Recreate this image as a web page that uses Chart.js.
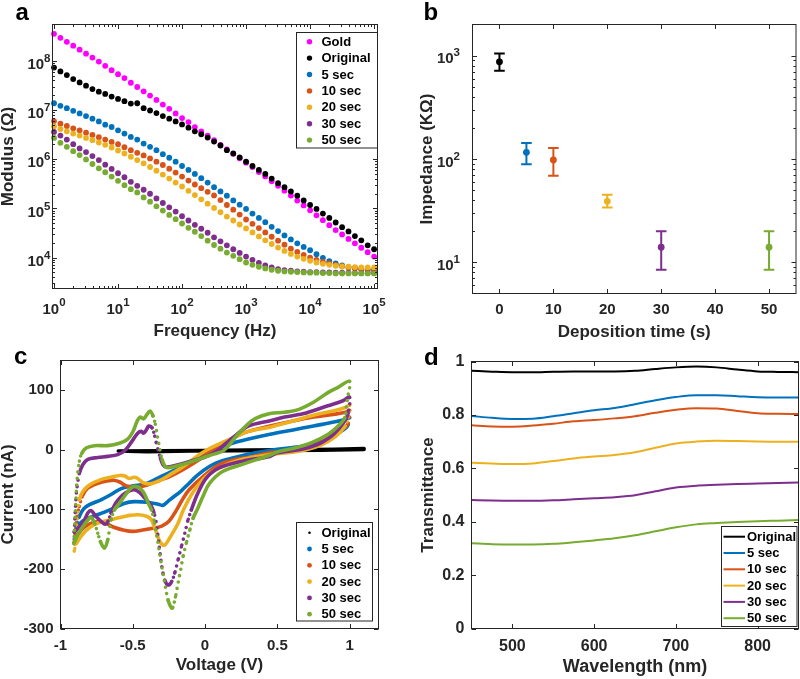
<!DOCTYPE html>
<html>
<head>
<meta charset="utf-8">
<script src="https://cdn.jsdelivr.net/npm/chart.js@4.4.1/dist/chart.umd.min.js"></script>
<style>
  body { margin: 0; background: #fff; width: 800px; height: 679px; position: relative; overflow: hidden; }
  canvas { position: absolute; }
  .tag { position: absolute; font: bold 24px "Liberation Sans", Arial, sans-serif; line-height: 24px; color: #000; }
</style>
</head>
<body>
<canvas id="chartA" width="400" height="340" style="left:0;top:0"></canvas>
<canvas id="chartB" width="400" height="340" style="left:400px;top:0"></canvas>
<canvas id="chartC" width="400" height="339" style="left:0;top:340px"></canvas>
<canvas id="chartD" width="400" height="339" style="left:400px;top:340px"></canvas>
<div class="tag" style="left:15.5px;top:-0.5px">a</div>
<div class="tag" style="left:423.5px;top:-0.5px">b</div>
<div class="tag" style="left:14px;top:343.5px">c</div>
<div class="tag" style="left:424px;top:344.5px">d</div>
<script>
// ---- panel a : impedance modulus vs frequency ----
const freqHz = [1, 1.259, 1.585, 1.995, 2.512, 3.162, 3.981, 5.012, 6.310, 7.943,
  10, 12.59, 15.85, 19.95, 25.12, 31.62, 39.81, 50.12, 63.10, 79.43,
  100, 125.9, 158.5, 199.5, 251.2, 316.2, 398.1, 501.2, 631.0, 794.3,
  1000, 1259, 1585, 1995, 2512, 3162, 3981, 5012, 6310, 7943,
  10000, 12589, 15849, 19953, 25119, 31623, 39811, 50119, 63096, 79433, 100000];
// |Z|, kept as log10(ohm)
const goldLogZ = [8.551, 8.470, 8.389, 8.309, 8.228, 8.147, 8.067, 7.986, 7.899, 7.811,
  7.731, 7.650, 7.556, 7.469, 7.381, 7.294, 7.207, 7.112, 7.025, 6.931,
  6.837, 6.756, 6.655, 6.568, 6.481, 6.387, 6.29, 6.20, 6.11, 6.02,
  5.93, 5.84, 5.74, 5.65, 5.55, 5.46, 5.36, 5.26, 5.16, 5.06,
  4.96, 4.86, 4.76, 4.66, 4.56, 4.47, 4.38, 4.29, 4.20, 4.11, 4.02];
const originalLogZ = [7.865, 7.785, 7.711, 7.630, 7.563, 7.496, 7.428, 7.375, 7.328, 7.274,
  7.227, 7.180, 7.133, 7.139, 7.039, 6.991, 6.938, 6.877, 6.824, 6.770,
  6.709, 6.642, 6.568, 6.508, 6.440, 6.360, 6.279, 6.185, 6.118, 6.037,
  5.950, 5.862, 5.782, 5.701, 5.607, 5.513, 5.432, 5.345, 5.258, 5.163,
  5.069, 4.989, 4.895, 4.807, 4.713, 4.619, 4.532, 4.438, 4.350, 4.250, 4.169];
const sec5LogZ = [7.139, 7.086, 7.039, 6.985, 6.931, 6.877, 6.824, 6.770, 6.702, 6.656,
  6.588, 6.521, 6.454, 6.400, 6.319, 6.252, 6.185, 6.104, 6.030, 5.950,
  5.862, 5.782, 5.701, 5.614, 5.526, 5.432, 5.345, 5.258, 5.163, 5.076,
  4.989, 4.895, 4.807, 4.720, 4.626, 4.539, 4.451, 4.370, 4.290, 4.216,
  4.149, 4.068, 3.994, 3.927, 3.880, 3.840, 3.806, 3.786, 3.772, 3.759, 3.752];
const sec10LogZ = [6.776, 6.723, 6.676, 6.629, 6.588, 6.541, 6.494, 6.447, 6.400, 6.353,
  6.306, 6.246, 6.185, 6.131, 6.078, 6.017, 5.950, 5.883, 5.809, 5.728,
  5.647, 5.567, 5.486, 5.412, 5.338, 5.264, 5.170, 5.069, 4.975, 4.875,
  4.774, 4.686, 4.599, 4.512, 4.424, 4.344, 4.263, 4.182, 4.115, 4.055,
  4.001, 3.954, 3.913, 3.880, 3.853, 3.826, 3.799, 3.779, 3.759, 3.745, 3.732];
const sec20LogZ = [6.669, 6.615, 6.568, 6.521, 6.481, 6.434, 6.387, 6.340, 6.293, 6.239,
  6.178, 6.118, 6.051, 5.983, 5.916, 5.842, 5.768, 5.688, 5.607, 5.526,
  5.446, 5.358, 5.271, 5.184, 5.096, 5.009, 4.922, 4.834, 4.754, 4.673,
  4.592, 4.512, 4.431, 4.350, 4.276, 4.203, 4.135, 4.075, 4.021, 3.974,
  3.934, 3.900, 3.873, 3.853, 3.833, 3.819, 3.813, 3.806, 3.799, 3.799, 3.799];
const sec30LogZ = [6.555, 6.481, 6.400, 6.306, 6.219, 6.145, 6.064, 5.983, 5.889, 5.802,
  5.715, 5.634, 5.540, 5.459, 5.379, 5.298, 5.204, 5.110, 5.022, 4.935,
  4.841, 4.754, 4.666, 4.586, 4.505, 4.411, 4.330, 4.250, 4.169, 4.095,
  4.021, 3.954, 3.893, 3.840, 3.799, 3.766, 3.745, 3.732, 3.719, 3.712,
  3.705, 3.705, 3.699, 3.699, 3.692, 3.692, 3.692, 3.685, 3.685, 3.685, 3.685];
const sec50LogZ = [6.434, 6.333, 6.252, 6.165, 6.084, 5.997, 5.903, 5.815, 5.735, 5.647,
  5.560, 5.473, 5.392, 5.325, 5.224, 5.137, 5.043, 4.955, 4.868, 4.780,
  4.693, 4.606, 4.525, 4.438, 4.344, 4.256, 4.182, 4.102, 4.035, 3.967,
  3.900, 3.853, 3.813, 3.779, 3.752, 3.732, 3.719, 3.712, 3.705, 3.699,
  3.692, 3.692, 3.685, 3.685, 3.678, 3.678, 3.678, 3.678, 3.678, 3.678, 3.678];
const freqTicks = [1, 10, 100, 1000, 10000, 100000];
const modulusTicks = [1e4, 1e5, 1e6, 1e7, 1e8];

// ---- panel b : impedance vs deposition time ----
const depTime = [0, 5, 10, 20, 30, 50];
const impMean = [870, 116, 98, 39, 14, 14];
const impLow = [712, 89, 69, 34, 8.5, 8.5];
const impHigh = [1050, 143, 128, 45, 20, 20];
const depTicks = [0, 10, 20, 30, 40, 50];
const impTicks = [10, 100, 1000];

// ---- panel c : cyclic voltammetry, [voltage V, current nA] in sweep order ----
const cvOriginal = [[-0.6, -2], [-0.3, -1.5], [0, -1], [0.3, -0.5], [0.6, 0], [0.9, 1], [1.1, 2],
  [1.1, 0.5], [0.8, -0.5], [0.5, -1], [0.2, -1.5], [-0.1, -2], [-0.4, -3], [-0.6, -2]];
const cv5s = [[-0.905, -150], [-0.893, -130], [-0.87, -112], [-0.84, -99], [-0.8, -92], [-0.72, -84],
  [-0.65, -75], [-0.58, -65], [-0.51, -61], [-0.45, -59], [-0.39, -55], [-0.3, -44], [-0.2, -33],
  [-0.1, -20], [0, -6], [0.1, 4], [0.2, 12], [0.3, 18], [0.45, 26], [0.6, 33], [0.75, 40], [0.9, 47],
  [0.97, 51], [1.0, 54], [0.99, 42], [0.97, 36], [0.94, 31], [0.875, 20], [0.78, 12], [0.67, 6],
  [0.5, 1], [0.35, -5], [0.22, -12], [0.1, -20], [0.03, -28], [-0.05, -42], [-0.11, -56], [-0.17, -70],
  [-0.245, -84], [-0.29, -93], [-0.33, -91], [-0.4, -88], [-0.49, -87], [-0.56, -90], [-0.63, -98],
  [-0.7, -105], [-0.77, -111], [-0.83, -117], [-0.88, -128], [-0.905, -150]];
const cv10s = [[-0.905, -155], [-0.89, -120], [-0.87, -95], [-0.845, -76], [-0.81, -64], [-0.74, -56],
  [-0.67, -52], [-0.63, -51], [-0.59, -54], [-0.55, -60], [-0.5, -63], [-0.45, -62], [-0.4, -59],
  [-0.3, -50], [-0.245, -45], [-0.15, -33], [-0.05, -18], [0.02, -5], [0.1, 6], [0.22, 23], [0.3, 31],
  [0.45, 40], [0.6, 48], [0.75, 55], [0.9, 60], [0.97, 63], [1.0, 66], [0.99, 45], [0.97, 38],
  [0.9, 28], [0.8, 12], [0.7, 3], [0.6, -1], [0.45, -5], [0.3, -13], [0.22, -16], [0.1, -25],
  [-0.01, -44], [-0.11, -67], [-0.16, -85], [-0.2, -102], [-0.25, -120], [-0.3, -128], [-0.37, -132],
  [-0.44, -135], [-0.5, -137], [-0.56, -135], [-0.63, -130], [-0.7, -122], [-0.76, -121], [-0.83, -129],
  [-0.88, -142], [-0.905, -155]];
const cv20s = [[-0.905, -170], [-0.895, -140], [-0.882, -106], [-0.87, -84], [-0.845, -70], [-0.8, -59],
  [-0.72, -50], [-0.65, -46], [-0.59, -43], [-0.555, -44], [-0.525, -48], [-0.49, -46], [-0.465, -48],
  [-0.43, -55], [-0.38, -57], [-0.3, -50], [-0.245, -42], [-0.15, -28], [-0.05, -10], [0, -2], [0.1, 10],
  [0.22, 23], [0.3, 31], [0.45, 38], [0.6, 48], [0.75, 58], [0.9, 66], [0.97, 71], [1.0, 75],
  [0.99, 55], [0.97, 40], [0.9, 22], [0.8, 8], [0.7, 0], [0.6, -4], [0.45, -8], [0.26, -16],
  [0.12, -28], [0.01, -44], [-0.08, -70], [-0.15, -101], [-0.19, -125], [-0.245, -148], [-0.28, -160],
  [-0.31, -155], [-0.335, -140], [-0.37, -118], [-0.4, -112], [-0.46, -109], [-0.52, -110], [-0.56, -112],
  [-0.63, -116], [-0.7, -120], [-0.77, -126], [-0.83, -137], [-0.89, -157], [-0.905, -170]];
const cv30s = [[-0.905, -138], [-0.892, -78], [-0.88, -53], [-0.869, -39], [-0.846, -25], [-0.811, -16],
  [-0.742, -13], [-0.673, -11], [-0.604, -8], [-0.558, -2], [-0.512, 12], [-0.466, 28], [-0.44, 31],
  [-0.425, 28], [-0.405, 34], [-0.39, 40], [-0.367, 37], [-0.348, 23], [-0.337, 12], [-0.325, 0],
  [-0.309, -14], [-0.291, -25], [-0.268, -29], [-0.2, -26], [-0.1, -19], [0, -12], [0.08, -2],
  [0.15, 12], [0.22, 26], [0.3, 40], [0.45, 49], [0.55, 55], [0.7, 62], [0.85, 74], [0.95, 82],
  [1.0, 88], [0.99, 62], [0.97, 50], [0.92, 34], [0.875, 23], [0.78, 9], [0.67, 1], [0.5, -5],
  [0.45, -11], [0.26, -19], [0.1, -30], [0.01, -47], [-0.05, -73], [-0.095, -101], [-0.12, -120],
  [-0.14, -140], [-0.164, -163], [-0.187, -185], [-0.21, -207], [-0.233, -222], [-0.256, -227],
  [-0.279, -219], [-0.291, -207], [-0.302, -191], [-0.314, -168], [-0.325, -146], [-0.337, -123],
  [-0.353, -106], [-0.371, -95], [-0.394, -87], [-0.417, -81], [-0.45, -72], [-0.49, -67], [-0.535, -70],
  [-0.57, -76], [-0.604, -85], [-0.627, -93], [-0.65, -106], [-0.673, -121], [-0.69, -125], [-0.72, -120],
  [-0.754, -112], [-0.789, -102], [-0.811, -106], [-0.834, -118], [-0.869, -129], [-0.905, -138]];
const cv50s = [[-0.908, -157], [-0.9, -120], [-0.892, -78], [-0.885, -50], [-0.869, -19], [-0.853, -6],
  [-0.823, 3], [-0.765, 7], [-0.673, 7], [-0.593, 11], [-0.535, 18], [-0.5, 30], [-0.47, 48], [-0.45, 55],
  [-0.425, 52], [-0.4, 60], [-0.38, 65], [-0.36, 57], [-0.344, 43], [-0.33, 23], [-0.314, 3],
  [-0.298, -16], [-0.279, -27], [-0.256, -30], [-0.164, -25], [-0.072, -18], [0, -12], [0.05, -8],
  [0.13, -1], [0.22, 24], [0.3, 44], [0.35, 53], [0.45, 61], [0.55, 63], [0.65, 68], [0.75, 80],
  [0.85, 96], [0.92, 105], [1.0, 115], [0.99, 92], [0.979, 76], [0.967, 54], [0.921, 40], [0.852, 26],
  [0.737, 12], [0.621, 3], [0.506, -3], [0.446, -9], [0.262, -24], [0.124, -36], [0.032, -56],
  [-0.014, -78], [-0.05, -98], [-0.083, -115], [-0.106, -135], [-0.13, -157], [-0.152, -179],
  [-0.169, -202], [-0.187, -224], [-0.205, -247], [-0.228, -266], [-0.256, -252], [-0.274, -230],
  [-0.291, -207], [-0.307, -185], [-0.321, -163], [-0.337, -140], [-0.353, -118], [-0.371, -101],
  [-0.394, -89], [-0.417, -75], [-0.44, -67], [-0.47, -62], [-0.5, -62], [-0.524, -67], [-0.558, -78],
  [-0.593, -90], [-0.627, -101], [-0.65, -118], [-0.662, -135], [-0.673, -151], [-0.696, -165],
  [-0.724, -154], [-0.742, -140], [-0.765, -123], [-0.789, -113], [-0.811, -118], [-0.846, -129],
  [-0.881, -143], [-0.908, -157]];
const voltTicks = [-1, -0.5, 0, 0.5, 1];
const currentTicks = [-300, -200, -100, 0, 100];

// ---- panel d : transmittance spectra ----
const wavelength = [450, 475, 500, 525, 550, 575, 600, 625, 650, 675, 700, 725, 750, 775, 800, 825, 850];
const transOriginal = [.965, .962, .960, .960, .962, .963, .963, .963, .965, .972, .978, .981, .978, .970, .963, .961, .960];
const trans5s = [.796, .789, .785, .786, .795, .806, .817, .826, .840, .855, .867, .874, .874, .870, .866, .865, .865];
const trans10s = [.761, .757, .756, .760, .767, .776, .781, .787, .795, .808, .819, .825, .824, .815, .806, .804, .803];
const trans20s = [.621, .618, .616, .618, .627, .637, .644, .650, .660, .677, .693, .700, .703, .702, .700, .699, .699];
const trans30s = [.481, .479, .478, .478, .480, .484, .488, .492, .499, .514, .528, .535, .538, .541, .543, .545, .547];
const trans50s = [.319, .316, .315, .315, .317, .323, .330, .338, .349, .364, .379, .390, .395, .399, .402, .404, .406];
const waveTicks = [500, 600, 700, 800];
const transTicks = [0, 0.2, 0.4, 0.6, 0.8, 1];

// ---- styling ----
const FONT = '"Liberation Sans", Arial, Helvetica, sans-serif';
const INK = '#262626';
const BLUE = '#0072BD', ORANGE = '#D95319', YELLOW = '#EDB120', PURPLE = '#7E2F8E', GREEN = '#77AC30';
const GOLD = '#FF00FF', BLACK = '#000000';
const seriesNames = ['Original', '5 sec', '10 sec', '20 sec', '30 sec', '50 sec'];
const seriesColors = [BLACK, BLUE, ORANGE, YELLOW, PURPLE, GREEN];

Chart.defaults.font.family = FONT;
Chart.defaults.color = INK;

function logMinors(lo, hi) {
  const out = [];
  for (let d = lo; d < hi; d *= 10) {
    for (let m = 2; m <= 9; m++) out.push(m * d);
  }
  return out;
}
const pinY = w => s => { s.width = w; s.paddingTop = 0; s.paddingBottom = 0; };
const pinX = h => s => { s.height = h; s.paddingLeft = 0; s.paddingRight = 0; };
const useTicks = vals => s => { s.ticks = vals.map(v => ({ value: v })); };

function drawLogLabels(chart, scale, o) {
  const ctx = chart.ctx;
  const { left, bottom } = chart.chartArea;
  const big = 'bold 15px ' + FONT, small = 'bold 11.5px ' + FONT;
  ctx.fillStyle = INK;
  ctx.textBaseline = 'middle';
  scale.ticks.forEach(t => {
    const e = String(Math.round(Math.log10(t.value)));
    const p = scale.getPixelForValue(t.value);
    ctx.font = big; const w1 = ctx.measureText('10').width;
    ctx.font = small; const w2 = ctx.measureText(e).width;
    if (scale.isHorizontal()) {
      const x0 = p - (w1 + w2) / 2;
      ctx.textAlign = 'left';
      ctx.font = big; ctx.fillText('10', x0, bottom + o.base);
      ctx.font = small; ctx.fillText(e, x0 + w1, bottom + o.sup);
    } else {
      const x1 = left - o.gap;
      ctx.textAlign = 'right';
      ctx.font = small; ctx.fillText(e, x1, p + o.sup);
      ctx.font = big; ctx.fillText('10', x1 - w2, p + o.base);
    }
  });
}

function drawLegend(chart, L) {
  const ctx = chart.ctx;
  ctx.fillStyle = '#fff';
  ctx.fillRect(L.x, L.y, L.w, L.h);
  ctx.strokeStyle = INK;
  ctx.lineWidth = 1;
  ctx.strokeRect(L.x, L.y, L.w, L.h);
  ctx.font = 'bold 13px ' + FONT;
  ctx.textAlign = 'left';
  ctx.textBaseline = 'middle';
  chart.data.datasets.forEach((ds, i) => {
    const y = L.first + i * L.step;
    if (L.type === 'line') {
      ctx.strokeStyle = ds.borderColor;
      ctx.lineWidth = 2;
      ctx.setLineDash([]);
      ctx.beginPath(); ctx.moveTo(L.markX, y); ctx.lineTo(L.markX2, y); ctx.stroke();
    } else {
      ctx.fillStyle = ds.borderColor;
      ctx.beginPath(); ctx.arc(L.markX, y, ds.legendR || 2.5, 0, Math.PI * 2); ctx.fill();
    }
    ctx.fillStyle = '#000';
    ctx.fillText(ds.label, L.textX, y + 0.5);
  });
}

// box, inward ticks on all four sides, log labels and legend (MATLAB look)
function boxAxes(o) {
  return {
    id: 'boxAxes',
    afterDatasetsDraw(chart) {
      const ctx = chart.ctx;
      const { left, right, top, bottom } = chart.chartArea;
      const sx = chart.scales.x, sy = chart.scales.y;
      ctx.save();
      ctx.setLineDash([]);
      ctx.strokeStyle = INK;
      ctx.lineWidth = 1;
      ctx.beginPath();
      const tickX = (v, len) => {
        const p = Math.round(sx.getPixelForValue(v)) + 0.5;
        ctx.moveTo(p, bottom); ctx.lineTo(p, bottom - len);
        ctx.moveTo(p, top); ctx.lineTo(p, top + len);
      };
      const tickY = (v, len) => {
        const p = Math.round(sy.getPixelForValue(v)) + 0.5;
        ctx.moveTo(left, p); ctx.lineTo(left + len, p);
        ctx.moveTo(right, p); ctx.lineTo(right - len, p);
      };
      sx.ticks.forEach(t => tickX(t.value, o.len));
      sy.ticks.forEach(t => tickY(t.value, o.len));
      (o.xMinor || []).filter(v => v > sx.min && v < sx.max).forEach(v => tickX(v, o.minLen));
      (o.yMinor || []).filter(v => v > sy.min && v < sy.max).forEach(v => tickY(v, o.minLen));
      ctx.stroke();
      ctx.strokeRect(left, top, right - left, bottom - top);
      if (o.xLog) drawLogLabels(chart, sx, o.xLog);
      if (o.yLog) drawLogLabels(chart, sy, o.yLog);
      if (o.legend) drawLegend(chart, o.legend);
      ctx.restore();
    }
  };
}

function axis(extra) {
  return Object.assign({
    grid: { display: false, drawTicks: false },
    border: { display: false },
  }, extra);
}
const tickFont = size => ({ size, weight: 'bold' });
const baseOptions = pad => ({
  responsive: false,
  animation: false,
  events: [],
  layout: { padding: pad },
  plugins: { legend: { display: false }, tooltip: { enabled: false } },
});

// ---------- a ----------
const seriesA = [
  { label: 'Gold', color: GOLD, logZ: goldLogZ },
  { label: 'Original', color: BLACK, logZ: originalLogZ },
  { label: '5 sec', color: BLUE, logZ: sec5LogZ },
  { label: '10 sec', color: ORANGE, logZ: sec10LogZ },
  { label: '20 sec', color: YELLOW, logZ: sec20LogZ },
  { label: '30 sec', color: PURPLE, logZ: sec30LogZ },
  { label: '50 sec', color: GREEN, logZ: sec50LogZ },
];
new Chart(document.getElementById('chartA'), {
  type: 'scatter',
  data: {
    datasets: seriesA.map((s, i) => ({
      label: s.label,
      data: freqHz.map((f, k) => ({ x: f, y: Math.pow(10, s.logZ[k]) })),
      backgroundColor: s.color, borderColor: s.color,
      pointRadius: 2.9, pointBorderWidth: 0, order: -i, clip: false, legendR: 2.7,
    })),
  },
  options: Object.assign(baseOptions({ left: 0, top: 24.5, right: 22.5, bottom: 0 }), {
    scales: {
      x: axis({
        type: 'logarithmic', min: 0.947, max: 1.13e5,
        afterBuildTicks: useTicks(freqTicks), afterFit: pinX(51.5),
        ticks: { display: false },
        title: { display: true, text: 'Frequency (Hz)', font: tickFont(17), color: INK, padding: { bottom: -1.2 } },
      }),
      y: axis({
        type: 'logarithmic', min: 2350, max: 5.5e8,
        afterBuildTicks: useTicks(modulusTicks), afterFit: pinY(52.5),
        ticks: { display: false },
        title: { display: true, text: 'Modulus (Ω)', font: tickFont(17), color: INK, padding: { top: -2 } },
      }),
    },
  }),
  plugins: [boxAxes({
    len: 4.5, minLen: 2.5,
    xMinor: logMinors(1, 1e5), yMinor: logMinors(1e3, 1e8),
    xLog: { base: 21.5, sup: 14.5 }, yLog: { gap: 2, base: 4, sup: -2 },
    legend: { x: 296.5, y: 32.5, w: 81, h: 115.5, first: 41.7, step: 16.4, markX: 309.5, textX: 321.5, type: 'dot' },
  })],
});

// ---------- b ----------
const errorBars = {
  id: 'errorBars',
  beforeDatasetsDraw(chart) {
    const ctx = chart.ctx, sx = chart.scales.x, sy = chart.scales.y;
    ctx.save();
    ctx.lineWidth = 2;
    depTime.forEach((t, i) => {
      const px = sx.getPixelForValue(t);
      const lo = sy.getPixelForValue(impLow[i]), hi = sy.getPixelForValue(impHigh[i]);
      ctx.strokeStyle = seriesColors[i];
      ctx.beginPath();
      ctx.moveTo(px, lo); ctx.lineTo(px, hi);
      ctx.moveTo(px - 5.3, lo); ctx.lineTo(px + 5.3, lo);
      ctx.moveTo(px - 5.3, hi); ctx.lineTo(px + 5.3, hi);
      ctx.stroke();
    });
    ctx.restore();
  }
};
new Chart(document.getElementById('chartB'), {
  type: 'scatter',
  data: {
    datasets: [{
      label: 'Impedance',
      data: depTime.map((t, i) => ({ x: t, y: impMean[i] })),
      backgroundColor: seriesColors, borderColor: seriesColors,
      pointRadius: 3.4, pointBorderWidth: 0,
    }],
  },
  options: Object.assign(baseOptions({ left: 0, top: 24.5, right: 1.5, bottom: 0 }), {
    scales: {
      x: axis({
        type: 'linear', min: -5, max: 55,
        afterBuildTicks: useTicks(depTicks), afterFit: pinX(46.5),
        ticks: { font: tickFont(15), color: INK, padding: 7.5, maxRotation: 0, callback: v => String(v) },
        title: { display: true, text: 'Deposition time (s)', font: tickFont(17), color: INK, padding: { bottom: -2.2 } },
      }),
      y: axis({
        type: 'logarithmic', min: 5, max: 2000,
        afterBuildTicks: useTicks(impTicks), afterFit: pinY(72.5),
        ticks: { display: false },
        title: { display: true, text: 'Impedance (KΩ)', font: tickFont(17), color: INK, padding: { top: 17.3 } },
      }),
    },
  }),
  plugins: [errorBars, boxAxes({
    len: 4.5, minLen: 2.5,
    yMinor: logMinors(1, 1000),
    yLog: { gap: 12.5, base: 3.7, sup: -2.5 },
  })],
});

// ---------- c ----------
// steep stretches of a sweep show the separate samples as dots, like the original
const sampleDots = ctx => {
  const dx = Math.abs(ctx.p1.x - ctx.p0.x), dy = Math.abs(ctx.p1.y - ctx.p0.y);
  const s = dy / Math.max(dx, 0.01);
  const gap = 1.5 * Math.sqrt(1 + s * s);
  return gap > 4.2 ? [0, Math.min(gap, 6.5)] : undefined;
};
const cvLoops = [cvOriginal, cv5s, cv10s, cv20s, cv30s, cv50s];
new Chart(document.getElementById('chartC'), {
  type: 'scatter',
  data: {
    datasets: cvLoops.map((loop, i) => ({
      label: seriesNames[i],
      data: loop.map(p => ({ x: p[0], y: p[1] })),
      showLine: true, borderColor: seriesColors[i], backgroundColor: seriesColors[i],
      borderWidth: 3.6, pointRadius: 0, tension: i === 0 ? 0 : 0.35,
      borderCapStyle: 'round', borderJoinStyle: 'round',
      segment: i === 0 ? {} : { borderDash: sampleDots },
      order: -i, legendR: i === 0 ? 1.3 : 2.4,
    })),
  },
  options: Object.assign(baseOptions({ left: 0, top: 20.5, right: 21.5, bottom: 0 }), {
    scales: {
      x: axis({
        type: 'linear', min: -1, max: 1.2,
        afterBuildTicks: useTicks(voltTicks), afterFit: pinX(50.5),
        ticks: { font: tickFont(15), color: INK, padding: 8, maxRotation: 0, callback: v => String(v) },
        title: { display: true, text: 'Voltage (V)', font: tickFont(17), color: INK, padding: { bottom: 3.5 } },
      }),
      y: axis({
        type: 'linear', min: -300, max: 150,
        afterBuildTicks: useTicks(currentTicks), afterFit: pinY(60.5),
        ticks: { font: tickFont(15), color: INK, padding: 7, callback: v => String(v) },
        title: { display: true, text: 'Current (nA)', font: tickFont(17), color: INK, padding: { top: -2 } },
      }),
    },
  }),
  plugins: [boxAxes({
    len: 4.5,
    legend: { x: 296.5, y: 182.5, w: 76, h: 98.5, first: 192.7, step: 16.3, markX: 309.5, textX: 321.5, type: 'dot' },
  })],
});

// ---------- d ----------
const transSeries = [transOriginal, trans5s, trans10s, trans20s, trans30s, trans50s];
new Chart(document.getElementById('chartD'), {
  type: 'scatter',
  data: {
    datasets: transSeries.map((vals, i) => ({
      label: seriesNames[i],
      data: wavelength.map((w, k) => ({ x: w, y: vals[k] })),
      showLine: true, borderColor: seriesColors[i], backgroundColor: seriesColors[i],
      borderWidth: 2, pointRadius: 0, cubicInterpolationMode: 'monotone',
      order: -i,
    })),
  },
  options: Object.assign(baseOptions({ left: 0, top: 21.5, right: 1.5, bottom: 0 }), {
    scales: {
      x: axis({
        type: 'linear', min: 450, max: 850,
        afterBuildTicks: useTicks(waveTicks), afterFit: pinX(50.5),
        ticks: { font: tickFont(16), color: INK, padding: 8, maxRotation: 0, callback: v => String(v) },
        title: { display: true, text: 'Wavelength (nm)', font: tickFont(18), color: INK, padding: { bottom: 1.2 } },
      }),
      y: axis({
        type: 'linear', min: 0, max: 1,
        afterBuildTicks: useTicks(transTicks), afterFit: pinY(71.5),
        ticks: { font: tickFont(16), color: INK, padding: 7, callback: v => String(v) },
        title: { display: true, text: 'Transmittance', font: tickFont(17), color: INK, padding: { top: 18.6 } },
      }),
    },
  }),
  plugins: [boxAxes({
    len: 4.5,
    legend: { x: 321.5, y: 186.5, w: 75.5, h: 100, first: 196.7, step: 16.3, markX: 323.5, markX2: 345, textX: 347, type: 'line' },
  })],
});
</script>
</body>
</html>
